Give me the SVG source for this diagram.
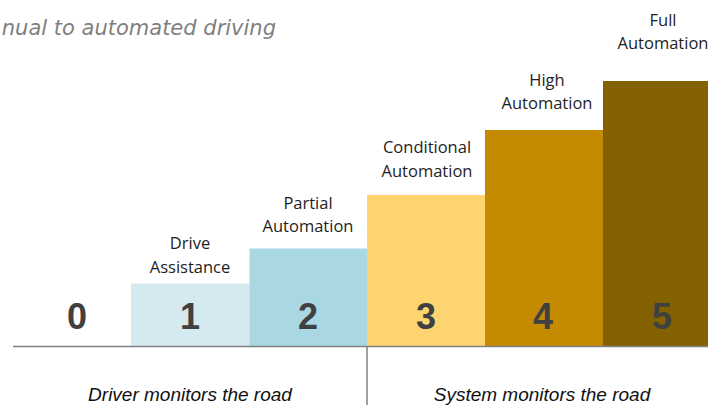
<svg xmlns="http://www.w3.org/2000/svg" width="708" height="405" viewBox="0 0 708 405">
<style>
.lbl{font-family:"Open Sans","Noto Sans",sans-serif;font-size:16.5px;fill:#1e1e1e;text-anchor:middle}
.num{font-family:"Liberation Sans",Arial,sans-serif;font-weight:bold;font-size:36px;fill:#404040;text-anchor:middle}
.foot{font-family:"Liberation Sans",Arial,sans-serif;font-style:italic;font-size:19px;fill:#111;text-anchor:middle}
.title{font-family:"DejaVu Sans",Verdana,sans-serif;font-style:italic;font-size:21px;fill:#7f7f7f}
.rule{stroke:#7f7f7f;stroke-width:1.5;fill:none}
</style>
<rect width="708" height="405" fill="#fff"/>
<text class="title" x="276" y="35" text-anchor="end">nual to automated driving</text>
<g id="level0">
<text class="num" x="77" y="329">0</text>
</g>
<g id="level1">
<rect x="131" y="283.5" width="118.5" height="62.5" fill="#D4EAF0"/>
<text class="num" x="190" y="329">1</text>
<text class="lbl" x="190" y="249">Drive</text>
<text class="lbl" x="190" y="272.5">Assistance</text>
</g>
<g id="level2">
<rect x="249.5" y="248.5" width="117.5" height="97.5" fill="#A9D8E3"/>
<text class="num" x="308" y="329">2</text>
<text class="lbl" x="308" y="208.5">Partial</text>
<text class="lbl" x="308" y="232">Automation</text>
</g>
<g id="level3">
<rect x="367" y="195" width="118" height="151" fill="#FDD46F"/>
<text class="num" x="426" y="329">3</text>
<text class="lbl" x="427" y="153">Conditional</text>
<text class="lbl" x="427" y="176.5">Automation</text>
</g>
<g id="level4">
<rect x="485" y="130" width="118" height="216" fill="#C48A00"/>
<text class="num" x="543" y="329">4</text>
<text class="lbl" x="547" y="86">High</text>
<text class="lbl" x="547" y="109">Automation</text>
</g>
<g id="level5">
<rect x="603" y="81" width="105" height="265" fill="#836000"/>
<text class="num" x="662" y="329">5</text>
<text class="lbl" x="663" y="26">Full</text>
<text class="lbl" x="663" y="49">Automation</text>
</g>
<g id="connectors">
<line class="rule" x1="13" y1="346.5" x2="708" y2="346.5"/>
<line class="rule" x1="367" y1="346.5" x2="367" y2="405"/>
</g>
<g id="footer">
<text class="foot" x="190" y="401">Driver monitors the road</text>
<text class="foot" x="542" y="401">System monitors the road</text>
</g>
</svg>
